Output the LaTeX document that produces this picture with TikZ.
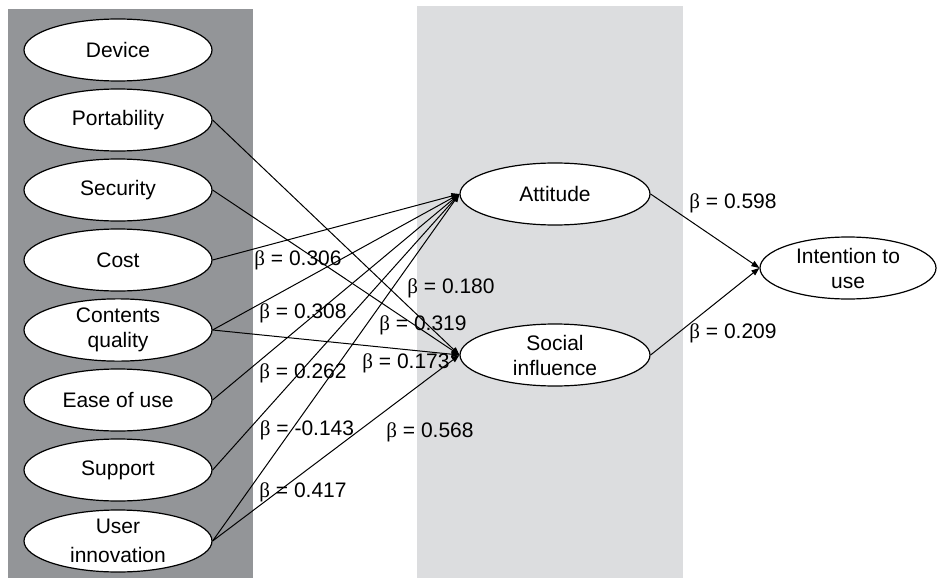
\documentclass[tikz,border=0pt]{standalone}
\usepackage{fontspec}
\setmainfont{Liberation Sans}
\newfontfamily\grk{Liberation Serif}
\usetikzlibrary{shapes.geometric,arrows.meta}
\definecolor{darkpanel}{HTML}{939598}
\definecolor{lightpanel}{HTML}{DCDDDF}
\tikzset{
  x=1pt,y=-1pt,
  factor/.style={ellipse,draw=black,fill=white,line width=1.2pt,minimum width=188pt,minimum height=62pt,inner sep=0pt,align=center,font=\fontsize{21}{25}\selectfont},
  latent/.style={factor,minimum width=190pt},
  link/.style={line width=1pt,-{Triangle[length=8pt,width=6pt]}},
  coef/.style={font=\fontsize{21}{25}\selectfont,inner sep=0pt}
}
\newcommand{\bt}[1]{{\grk β} = #1}
\begin{document}
\begin{tikzpicture}
\useasboundingbox (0,0) rectangle (937,578);
\fill[white] (0,0) rectangle (937,578);
\fill[darkpanel] (8,9) rectangle (253,578);
\fill[lightpanel] (417,6) rectangle (683,578);

\node[factor] (dev) at (118,50) {Device};
\node[factor] (por) at (118,120) {Portability};
\node[factor] (sec) at (118,190) {Security};
\node[factor] (cos) at (118,260) {Cost};
\node[factor] (cq) at (118,330) {Contents\\quality};
\node[factor] (eou) at (118,400) {Ease of use};
\node[factor] (sup) at (118,470) {Support};
\node[factor,font=\fontsize{21}{29}\selectfont] (ui) at (118,541) {User\\innovation};

\node[latent] (att) at (555,194) {Attitude};
\node[latent] (soc) at (555,355) {Social\\influence};
\node[factor,minimum width=176pt] (int) at (848,268) {Intention to\\use};

\draw[link] (por.east) -- (soc.west);
\draw[link] (sec.east) -- (soc.west);
\draw[link] (cos.east) -- (att.west);
\draw[link] (cq.east) -- (att.west);
\draw[link] (cq.east) -- (soc.west);
\draw[link] (eou.east) -- (att.west);
\draw[link] (sup.east) -- (att.west);
\draw[link] (ui.east) -- (att.west);
\draw[link] (ui.east) -- (soc.west);
\draw[link] (att.east) -- (int.west);
\draw[link] (soc.east) -- (int.west);

\node[coef] (c1) at (298,260) {\bt{0.306}};
\node[coef] (c2) at (451,288) {\bt{0.180}};
\node[coef] (c3) at (303,313) {\bt{0.308}};
\node[coef] (c4) at (423,325) {\bt{0.319}};
\node[coef] (c5) at (406,363) {\bt{0.173}};
\node[coef] (c6) at (303,373) {\bt{0.262}};
\node[coef] (c7) at (307,430) {\bt{-0.143}};
\node[coef] (c8) at (430,432) {\bt{0.568}};
\node[coef] (c9) at (303,492) {\bt{0.417}};
\node[coef] (c10) at (733,203) {\bt{0.598}};
\node[coef] (c11) at (733,333) {\bt{0.209}};
\end{tikzpicture}
\end{document}
